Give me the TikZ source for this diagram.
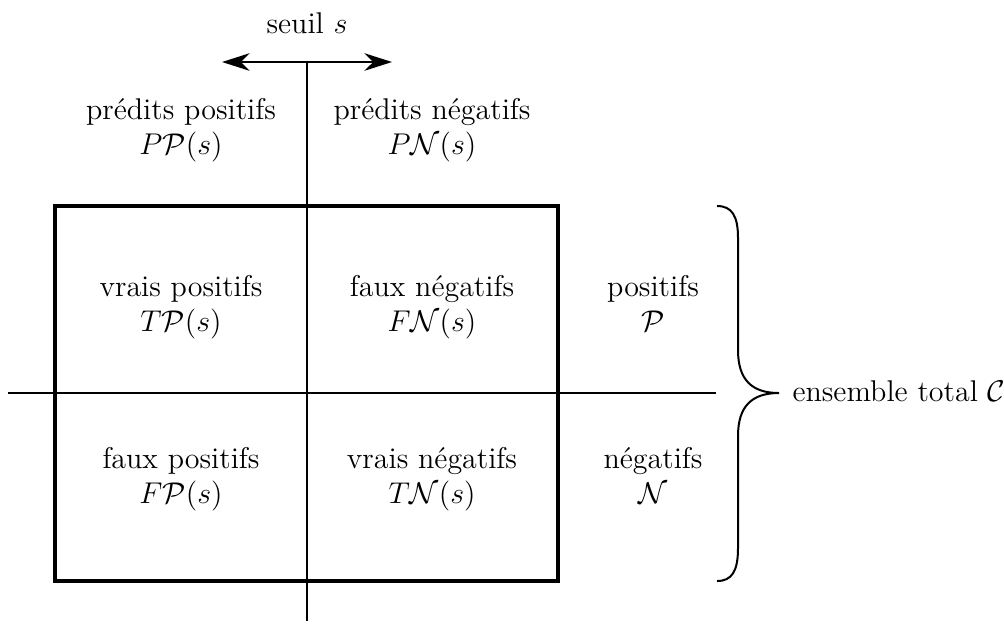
\documentclass[tikz,border=0pt]{standalone}
\usetikzlibrary{arrows.meta}
\begin{document}
\begin{tikzpicture}[x=0.4pt,y=-0.4pt,
  lbl/.style={align=center,inner sep=0pt,anchor=base,font=\fontsize{12}{14}\selectfont},
  axis/.style={line width=0.8pt},
  box/.style={line width=1.6pt},
  bracestyle/.style={line width=0.8pt},
]
\useasboundingbox (0,0) rectangle (1004,623);
% coordinates
\coordinate (vtop) at (307,62);
\coordinate (vbot) at (307,621);
\coordinate (hl) at (8,393);
\coordinate (hr) at (716,393);
\coordinate (al) at (222,62);
\coordinate (ar) at (392,62);
\coordinate (btop) at (717,206);
\coordinate (btip) at (779,393);
\coordinate (bbot) at (717,581);
% box
\draw[box] (55,206) rectangle (558,581);
% axes
\draw[axis] (vtop) -- (vbot);
\draw[axis] (hl) -- (hr);
\draw[axis,{Stealth[length=11pt,width=7pt,inset=3.5pt]}-{Stealth[length=11pt,width=7pt,inset=3.5pt]}] (al) -- (ar);
% brace
\draw[bracestyle] (btop) .. controls (732,206) and (738,216) .. (738,238)
  -- (738,350) .. controls (738,380) and (752,393) .. (btip)
  .. controls (752,393) and (738,406) .. (738,436)
  -- (738,548) .. controls (738,571) and (732,581) .. (bbot);
% labels
\node[lbl] (seuil) at (307,33) {seuil $s$};
\node[lbl] (pp) at (181,154) {prédits positifs\\$P\mathcal{P}(s)$};
\node[lbl] (pn) at (432,154) {prédits négatifs\\$P\mathcal{N}(s)$};
\node[lbl] (tp) at (181,331) {vrais positifs\\$T\mathcal{P}(s)$};
\node[lbl] (fn) at (432,331) {faux négatifs\\$F\mathcal{N}(s)$};
\node[lbl] (pos) at (653,331) {positifs\\$\mathcal{P}$};
\node[lbl] (fp) at (181,503) {faux positifs\\$F\mathcal{P}(s)$};
\node[lbl] (tn) at (432,503) {vrais négatifs\\$T\mathcal{N}(s)$};
\node[lbl] (neg) at (653,503) {négatifs\\$\mathcal{N}$};
\node[lbl,anchor=base west] (tot) at (792,401) {ensemble total $\mathcal{C}$};
\end{tikzpicture}
\end{document}
